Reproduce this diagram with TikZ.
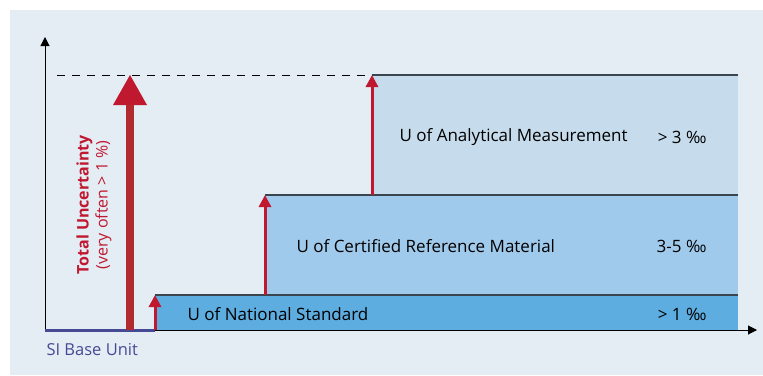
\documentclass[tikz,border=0pt]{standalone}
\usepackage{fontspec}
\setmainfont{Open Sans}
\usetikzlibrary{arrows.meta}
\definecolor{bgblue}{HTML}{E4ECF4}
\definecolor{natblue}{HTML}{5DADE0}
\definecolor{crmblue}{HTML}{A0CAEC}
\definecolor{anablue}{HTML}{C6DCEC}
\definecolor{edgegray}{HTML}{3A4550}
\definecolor{unitblue}{HTML}{464A94}
\definecolor{upred}{HTML}{C0182F}
\definecolor{shaftred}{HTML}{B02A30}

\begin{document}
\begin{tikzpicture}[x=1pt,y=-1pt,
  lbl/.style={anchor=west,font=\fontsize{17}{20}\selectfont},
  pct/.style={anchor=east,font=\fontsize{17}{20}\selectfont},
  step up/.style={draw=upred,line width=3pt,-{Triangle[width=12pt,length=12pt]}},
  top edge/.style={draw=edgegray,line width=1.5pt}]
\useasboundingbox (0,0) rectangle (763,375);
\fill[bgblue] (10,10) rectangle (763,375);

% steps
\coordinate (o) at (45,330);
\coordinate (n) at (155,330);
\coordinate (c) at (265,295);
\coordinate (a) at (372,195);
\coordinate (t) at (372,75);
\fill[natblue] (155,295) rectangle (738,330);
\fill[crmblue] (265,195) rectangle (738,295);
\fill[anablue] (372,75) rectangle (738,195);
\draw[top edge] (155,295)--(738,295);
\draw[top edge] (265,195)--(738,195);
\draw[top edge] (372,75)--(738,75);

\node[lbl] (nat) at (184,314) {U of National Standard};
\node[pct] (natp) at (710,314) {> 1 ‰};
\node[lbl] (crm) at (293,246) {U of Certified Reference Material};
\node[pct] (crmp) at (710,246) {3-5 ‰};
\node[lbl] (ana) at (396,137) {U of Analytical Measurement};
\node[pct] (anap) at (710,137) {> 3 ‰};

% axes
\draw[line width=1pt,-{Triangle[width=9pt,length=9pt]}] (o)--(757,330);
\draw[line width=1pt,-{Triangle[width=9pt,length=9pt]}] (o)--(45,37);
\draw[line width=3pt,unitblue] (o)--(n);
\node[anchor=west,text=unitblue,font=\fontsize{16.5}{20}\selectfont] (si) at (43,350) {SI Base Unit};
\draw[dashed,dash pattern=on 8pt off 7pt,line width=0.8pt] (57,75)--(t);

\draw[step up] (n)--(155,295);
\draw[step up] (c)--(265,195);
\draw[step up] (a)--(t);

% total uncertainty
\coordinate (tb) at (130,330);
\coordinate (tt) at (130,75);
\draw[shaftred,line width=8pt] (tb)--(130,104);
\fill[upred] (113,105)--(tt)--(147,105)--cycle;
\node[rotate=90,text=upred,align=center,font=\fontsize{16}{19}\selectfont] (tot) at (94,205)
  {\textbf{Total Uncertainty}\\(very often > 1 \%)};
\end{tikzpicture}
\end{document}
